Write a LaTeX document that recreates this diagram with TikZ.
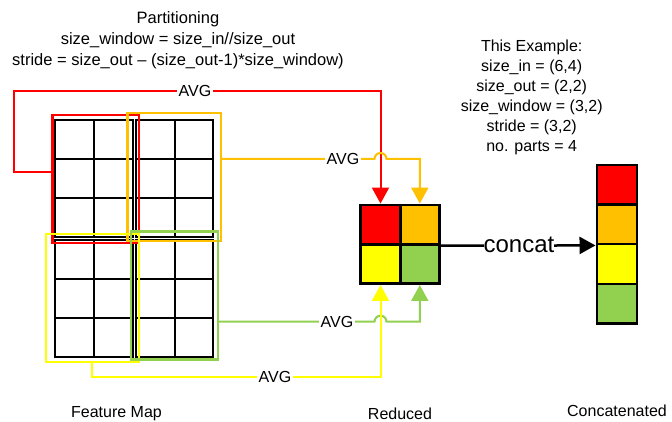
\documentclass[tikz,border=0pt]{standalone}
\usepackage{fontspec}
\setmainfont{Liberation Sans}
\usetikzlibrary{arrows.meta,calc}

\definecolor{cRed}{HTML}{FF0000}
\definecolor{cOrange}{HTML}{FFC000}
\definecolor{cYellow}{HTML}{FFFF00}
\definecolor{cGreen}{HTML}{92D050}

\begin{document}
\begin{tikzpicture}[x=1pt,y=-1pt,
  txt/.style={font=\fontsize{16}{20}\selectfont, inner sep=1pt},
  avg/.style={txt, fill=white, inner xsep=1.5pt, inner ysep=0pt},
  gridln/.style={line width=2pt, line cap=rect},
  win/.style={draw, line width=2.4pt, inner sep=0pt, fill=none},
  cell/.style={draw, line width=2.8pt, inner sep=0pt, minimum width=39.3pt, minimum height=39.3pt},
  ccell/.style={draw, line width=2.4pt, inner sep=0pt, minimum width=40pt, minimum height=39.7pt},
  link/.style={line width=2pt, -{Triangle[length=16pt,width=17pt]}},
]
\fill[white] (0,0) rectangle (672,422);
\useasboundingbox (0,0) rectangle (672,422);

% headings
\node[txt, align=center, font=\fontsize{16.5}{21}\selectfont] (title) at (178,40.7)
  {Partitioning\\size\_window = size\_in//size\_out\\stride = size\_out – (size\_out-1)*size\_window)};
\node[txt, align=center] (example) at (531.7,97)
  {This Example:\\size\_in = (6,4)\\size\_out = (2,2)\\size\_window = (3,2)\\stride = (3,2)\\no. parts = 4};

% feature map: four 3x2 blocks
\foreach \xa/\xb/\ya/\yb in {55/133.1/120/236.8, 136.3/213.3/120/236.8, 55/133.1/239.8/357, 136.3/213.3/239.8/357}{
  \draw[gridln] (\xa,\ya) rectangle (\xb,\yb);
  \draw[gridln] ({(\xa+\xb)/2},\ya) -- ({(\xa+\xb)/2},\yb);
  \foreach \k in {1,2}
    \draw[gridln] (\xa,{\ya+\k*(\yb-\ya)/3}) -- (\xb,{\ya+\k*(\yb-\ya)/3});
}

% pooling windows
\node[win, draw=cRed, minimum width=86.4pt, minimum height=128.3pt] (wRed) at (95.5,179.15) {};
\node[win, draw=cOrange, minimum width=93.7pt, minimum height=127.7pt] (wOrg) at (174.15,177.15) {};
\node[win, draw=cYellow, minimum width=93pt, minimum height=127.7pt] (wYel) at (92.2,297.85) {};
\node[win, draw=cGreen, minimum width=86.7pt, minimum height=127.6pt] (wGrn) at (174.35,295.5) {};

% reduced 2x2 map
\node[cell, fill=cRed] (rR) at (380.5,224.6) {};
\node[cell, fill=cOrange] (rO) at (419.8,224.6) {};
\node[cell, fill=cYellow] (rY) at (380.5,263.9) {};
\node[cell, fill=cGreen] (rG) at (419.8,263.9) {};

% concatenated column
\node[ccell, fill=cRed] (cR) at (616.7,184.7) {};
\node[ccell, fill=cOrange] (cO) at (616.7,224.4) {};
\node[ccell, fill=cYellow] (cY) at (616.7,264.1) {};
\node[ccell, fill=cGreen] (cG) at (616.7,303.8) {};

% averaging connectors
\draw[link, color=cRed] (wRed.west |- 0,171.7) -| (14.3,91) -- (rR.north |- 0,91) -- (rR.north);
\node[avg] (avgR) at (195,91) {AVG};

\draw[link, color=cOrange] (wOrg.east |- 0,159) -- (374.5,159)
  arc[start angle=180, end angle=360, radius=6] -| (rO.north);
\node[avg] (avgO) at (343,159) {AVG};

\draw[link, color=cGreen] (wGrn.east |- 0,321.7) -- (374.5,321.7)
  arc[start angle=180, end angle=360, radius=6] -| (rG.south);
\node[avg] (avgG) at (337,321.7) {AVG};

\draw[link, color=cYellow] (wYel.south -| 91.7,0) |- (rY.south |- 0,376.5) -- (rY.south);
\node[avg] (avgY) at (275,376.5) {AVG};

% concatenation
\draw[link, line width=2.5pt, black] (rO.south east) -- (cO.south west);
\node[txt, fill=white, inner sep=0pt, font=\fontsize{24}{28}\selectfont] (concat) at (519,245) {concat};

% captions
\node[txt] (capFM) at (116.5,414) {Feature Map};
\node[txt] (capRed) at (400,414) {Reduced};
\node[txt] (capCat) at (617,411) {Concatenated};
\end{tikzpicture}
\end{document}
